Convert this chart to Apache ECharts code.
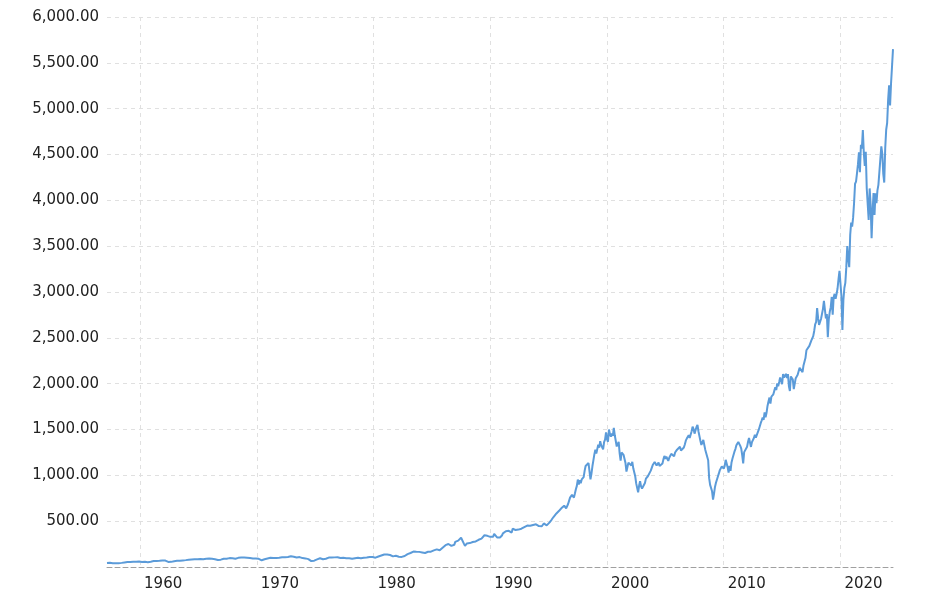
<!DOCTYPE html>
<html>
<head>
  <meta charset="utf-8">
  <title>S&amp;P 500 historical chart</title>
  <script src="https://cdn.jsdelivr.net/npm/echarts@6/dist/echarts.min.js"></script>
  <style>
    html, body { margin: 0; padding: 0; background: #fff; }
    #chart { width: 948px; height: 597px; }
  </style>
</head>
<body>
<div id="chart"></div>
<script>
  // quarterly closes (Mar, Jun, Sep, Dec), 1957 - 1984
  var quarterly1957 = [
    44, 47, 42, 40,   42, 45, 50, 55,   55, 58, 57, 60,   55, 57, 53, 58,
    65, 65, 67, 72,   70, 55, 56, 63,   67, 69, 72, 75,   79, 82, 84, 85,
    86, 84, 90, 92,   89, 85, 77, 80,   90, 91, 97, 96,   90, 100, 103, 104,
    101, 98, 93, 92,  89, 73, 84, 92,   100, 99, 98, 102, 107, 107, 110, 118,
    112, 104, 108, 97, 94, 86, 64, 69,  83, 95, 84, 90,   103, 104, 105, 107,
    98, 100, 96, 95,  89, 96, 102, 96,  102, 103, 109, 108, 102, 114, 125, 136,
    136, 131, 116, 122, 112, 110, 120, 141, 153, 168, 166, 165, 159, 153, 166, 167
  ];

  // monthly closes, 1985 - 1994
  var monthly1985 = [
    180, 181, 181, 180, 190, 192, 191, 189, 182, 190, 202, 211,
    212, 227, 238, 235, 247, 251, 236, 253, 231, 244, 249, 242,
    274, 284, 291, 288, 290, 304, 319, 330, 322, 252, 230, 247,
    257, 268, 259, 261, 262, 274, 272, 262, 272, 279, 274, 278,
    297, 289, 295, 310, 321, 318, 346, 351, 349, 340, 346, 353,
    329, 332, 340, 331, 361, 358, 356, 323, 306, 304, 322, 330,
    344, 367, 375, 375, 390, 371, 388, 395, 388, 392, 375, 417,
    409, 413, 404, 415, 415, 408, 424, 414, 418, 419, 431, 436,
    439, 443, 452, 440, 450, 451, 448, 464, 459, 468, 462, 466,
    481, 467, 446, 451, 457, 444, 458, 475, 463, 472, 454, 459
  ];

  // monthly closes, 1995 - 2009
  var monthly1995 = [
    470, 487, 500, 515, 533, 545, 562, 562, 584, 582, 605, 616,
    636, 640, 645, 654, 669, 671, 640, 652, 687, 705, 757, 741,
    786, 791, 757, 801, 848, 885, 954, 899, 947, 915, 955, 970,
    980, 1049, 1102, 1112, 1091, 1134, 1121, 957, 1017, 1099, 1164, 1229,
    1280, 1238, 1286, 1335, 1302, 1373, 1329, 1320, 1283, 1363, 1389, 1469,
    1394, 1366, 1499, 1452, 1421, 1455, 1431, 1518, 1437, 1429, 1315, 1320,
    1366, 1240, 1160, 1249, 1256, 1224, 1211, 1134, 1041, 1060, 1139, 1148,
    1130, 1107, 1147, 1077, 1067, 990, 912, 916, 815, 886, 936, 880,
    856, 841, 848, 917, 964, 975, 990, 1008, 996, 1051, 1058, 1112,
    1131, 1145, 1126, 1107, 1121, 1141, 1102, 1104, 1115, 1130, 1174, 1212,
    1181, 1204, 1181, 1157, 1192, 1191, 1234, 1220, 1229, 1207, 1249, 1248,
    1280, 1281, 1295, 1311, 1270, 1270, 1277, 1304, 1336, 1378, 1401, 1418,
    1438, 1407, 1421, 1482, 1531, 1503, 1455, 1474, 1527, 1549, 1481, 1468,
    1378, 1331, 1323, 1386, 1400, 1280, 1267, 1283, 1165, 969, 896, 903,
    826, 735, 798, 873, 919, 919, 987, 1021, 1057, 1036, 1096, 1115
  ];

  // monthly closes, 2010 - Jul 2024
  var monthly2010 = [
    1074, 1104, 1169, 1187, 1089, 1031, 1102, 1049, 1141, 1183, 1181, 1258,
    1286, 1327, 1326, 1364, 1345, 1321, 1292, 1219, 1131, 1253, 1247, 1258,
    1312, 1366, 1408, 1398, 1310, 1362, 1379, 1407, 1441, 1412, 1416, 1426,
    1498, 1515, 1569, 1598, 1631, 1606, 1686, 1633, 1682, 1757, 1806, 1848,
    1783, 1859, 1872, 1884, 1924, 1960, 1931, 2003, 1972, 2018, 2068, 2059,
    1995, 2105, 2068, 2086, 2107, 2063, 2104, 1972, 1920, 2079, 2080, 2044,
    1940, 1932, 2060, 2065, 2097, 2099, 2174, 2171, 2168, 2126, 2199, 2239,
    2279, 2364, 2363, 2384, 2412, 2423, 2470, 2472, 2519, 2575, 2648, 2674,
    2824, 2714, 2641, 2648, 2705, 2718, 2816, 2902, 2914, 2711, 2760, 2507,
    2704, 2784, 2834, 2946, 2752, 2942, 2980, 2926, 2977, 3038, 3141, 3231,
    3226, 2954, 2585, 2912, 3044, 3100, 3271, 3500, 3363, 3270, 3622, 3756,
    3714, 3811, 3973, 4181, 4204, 4298, 4395, 4523, 4308, 4605, 4567, 4766,
    4516, 4374, 4530, 4132, 4132, 3785, 4130, 3955, 3586, 3872, 4080, 3840,
    4077, 3970, 4109, 4169, 4180, 4450, 4589, 4508, 4288, 4194, 4568, 4770,
    4846, 5096, 5254, 5036, 5278, 5460, 5650
  ];

  var yearTicks = [1960, 1970, 1980, 1990, 2000, 2010, 2020];

  var points = [];
  quarterly1957.forEach(function (v, i) {
    points.push([1957 + Math.floor(i / 4) + (i % 4 * 3 + 2) / 12, v]);
  });
  monthly1985.forEach(function (v, i) { points.push([1985 + i / 12, v]); });
  monthly1995.forEach(function (v, i) { points.push([1995 + i / 12, v]); });
  monthly2010.forEach(function (v, i) { points.push([2010 + i / 12, v]); });

  function money(v) {
    if (v === 0) return '';
    return v.toFixed(2).replace(/\B(?=(\d{3})+(?!\d))/g, ',');
  }

  var chart = echarts.init(document.getElementById('chart'));
  chart.setOption({
    animation: false,
    grid: {left: 107, right: 55, top: 17, bottom: 30},
    xAxis: {
      type: 'value',
      min: 1957.167,
      max: 2024.5,
      axisLine: {show: true, lineStyle: {color: '#a0a0a0', type: [5, 3], width: 1}},
      axisTick: {show: false, customValues: yearTicks},
      axisLabel: {
        customValues: yearTicks,
        formatter: function (v) { return String(Math.round(v)); },
        align: 'left',
        padding: [0, 0, 0, 4],
        margin: 10,
        color: '#222',
        fontSize: 15,
        fontFamily: 'DejaVu Sans'
      },
      splitLine: {show: true, lineStyle: {color: '#e0e0e0', type: [4, 4], width: 1}}
    },
    yAxis: {
      type: 'value',
      min: 0,
      max: 6000,
      interval: 500,
      axisLine: {show: false},
      axisTick: {show: false},
      axisLabel: {
        formatter: money,
        margin: 8,
        color: '#222',
        fontSize: 15,
        fontFamily: 'DejaVu Sans'
      },
      splitLine: {show: true, lineStyle: {color: '#e0e0e0', type: [4, 4], width: 1}}
    },
    series: [{
      type: 'line',
      data: points,
      showSymbol: false,
      lineStyle: {color: '#5b9bd9', width: 2},
      itemStyle: {color: '#5b9bd9'}
    }]
  });
</script>
</body>
</html>
